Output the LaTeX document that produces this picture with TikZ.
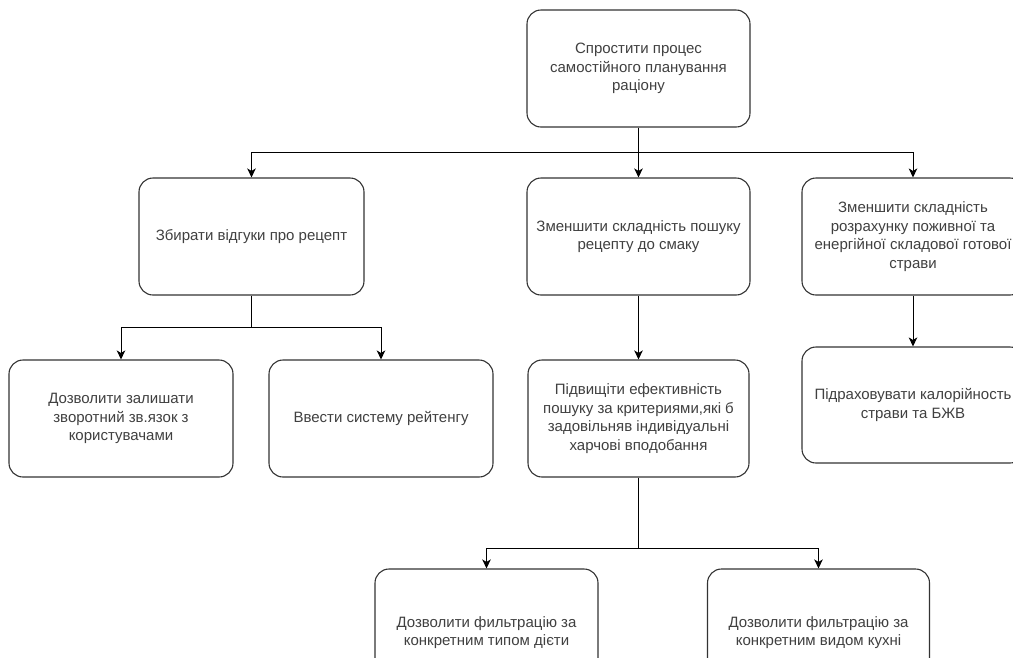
\documentclass[tikz,border=0pt]{standalone}
\usepackage{fontspec}
\setmainfont{Liberation Sans}
\usetikzlibrary{arrows.meta,calc}
\tikzset{
  box/.style={draw=black!80, line width=1.1pt, rounded corners=14pt, rectangle,
    inner sep=0pt, align=center, text=black!75,
    font=\fontsize{15}{18.5}\selectfont},
  boxtext/.style={inner sep=0pt, align=center, text=black!75,
    font=\fontsize{15}{18.5}\selectfont},
  conn/.style={draw=black, line width=0.9pt, -{Stealth[length=9pt,width=8.5pt,inset=2.5pt]}},
  plain/.style={draw=black, line width=0.9pt}
}
\begin{document}
\begin{tikzpicture}[x=1pt,y=-1pt]
\useasboundingbox (0,0) rectangle (1013,657);
\clip (0,0) rectangle (1013,657);
\fill[white] (0,0) rectangle (1013,657);
\node[box, minimum width=223pt, minimum height=117pt] (top) at (638.5,68.5)
  {Спростити процес\\самостійного планування\\раціону};
\node[box, minimum width=225pt, minimum height=117pt] (l2a) at (251.5,236.5)
  {Збирати відгуки про рецепт};
\node[box, minimum width=223pt, minimum height=117pt] (l2b) at (638.5,236.5)
  {Зменшити складність пошуку\\рецепту до смаку};
\node[box, minimum width=222pt, minimum height=117pt] (l2c) at (913,236.5)
  {Зменшити складність\\розрахунку поживної та\\енергійної складової готової\\страви};
\node[box, minimum width=224pt, minimum height=117pt] (l3a) at (121,418.5)
  {Дозволити залишати\\зворотний зв.язок з\\користувачами};
\node[box, minimum width=224pt, minimum height=117pt] (l3b) at (381,418.5)
  {Ввести систему рейтенгу};
\node[box, minimum width=221pt, minimum height=117pt] (l3c) at (638.5,418.5)
  {Підвищіти ефективність\\пошуку за критериями,які б\\задовільняв індивідуальні\\харчові вподобання};
\node[box, minimum width=222pt, minimum height=116pt] (l3d) at (913,405)
  {Підраховувати калорійность\\страви та БЖВ};
\node[box, minimum width=223pt, minimum height=117pt] (l4a) at (486.5,627.5) {};
\node[boxtext] (t4a) at ($(l4a.center)+(0,5)$)
  {Дозволити фильтрацію за\\конкретним типом дієти};
\node[box, minimum width=222pt, minimum height=117pt] (l4b) at (818.5,627.5) {};
\node[boxtext] (t4b) at ($(l4b.center)+(0,5)$)
  {Дозволити фильтрацію за\\конкретним видом кухні};
% connectors
\coordinate (j1) at (638.5,152);
\draw[plain] (top.south) -- (j1);
\draw[conn] (j1) -| (l2a.north);
\draw[conn] (j1) -- (l2b.north);
\draw[conn] (j1) -| (l2c.north);
\coordinate (j2) at (251.5,327);
\draw[plain] (l2a.south) -- (j2);
\draw[conn] (j2) -| (l3a.north);
\draw[conn] (j2) -| (l3b.north);
\draw[conn] (l2b.south) -- (l3c.north);
\draw[conn] (l2c.south) -- (l3d.north);
\coordinate (j3) at (638.5,548);
\draw[plain] (l3c.south) -- (j3);
\draw[conn] (j3) -| (l4a.north);
\draw[conn] (j3) -| (l4b.north);
\end{tikzpicture}
\end{document}
